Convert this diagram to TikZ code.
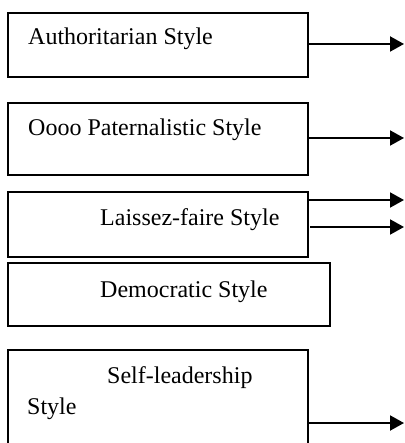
\documentclass[tikz,border=0pt]{standalone}
\usepackage{fontspec}
\setmainfont{Liberation Serif}
\usetikzlibrary{arrows.meta}
\begin{document}
\begin{tikzpicture}[x=1pt,y=-1pt,
  box/.style={draw=black,line width=1.8pt,minimum width=#1,minimum height=0pt,inner sep=0pt,anchor=north west},
  lbl/.style={anchor=base west,inner sep=0pt,font=\fontsize{24}{29}\selectfont},
  arr/.style={line width=2pt,-{Triangle[length=14pt,width=15pt]}}]
\useasboundingbox (0,0) rectangle (404,443);
\clip (0,0) rectangle (404,443);
% boxes
\node[box=300pt,minimum height=64pt] (b1) at (7,12) {};
\node[box=300pt,minimum height=72pt] (b2) at (7,102) {};
\node[box=300pt,minimum height=65pt] (b3) at (7,191) {};
\node[box=322pt,minimum height=63pt] (b4) at (7,262) {};
\node[box=300pt,minimum height=110pt] (b5) at (7,349) {};
% texts
\node[lbl] (t1) at (28,45) {Authoritarian Style};
\node[lbl] (t2) at (28,136) {Oooo Paternalistic Style};
\node[lbl] (t3) at (100,225) {Laissez-faire Style};
\node[lbl] (t4) at (100,297) {Democratic Style};
\node[lbl] (t5a) at (107,383) {Self-leadership};
\node[lbl] (t5b) at (27,414) {Style};
% arrow ends
\coordinate (e1) at (404,44);
\coordinate (e2) at (404,138);
\coordinate (e3a) at (404,200);
\coordinate (e3b) at (404,227);
\coordinate (s3b) at (310,227);
\coordinate (e5) at (404,423);
\draw[arr] (b1.east |- e1) -- (e1);
\draw[arr] (b2.east |- e2) -- (e2);
\draw[arr] (b3.east |- e3a) -- (e3a);
\draw[arr] (s3b) -- (e3b);
\draw[arr] (b5.east |- e5) -- (e5);
\end{tikzpicture}
\end{document}
